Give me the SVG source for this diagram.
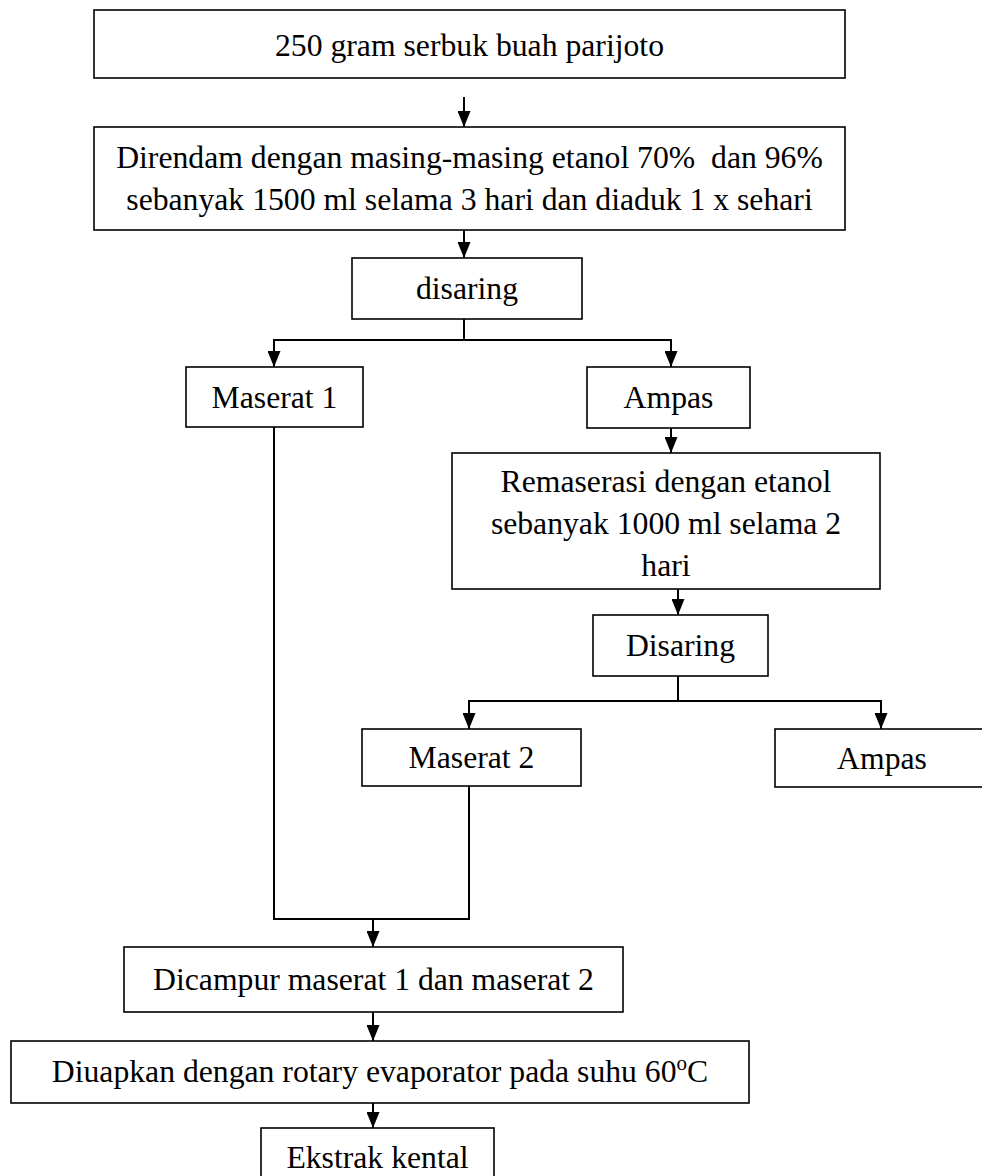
<svg xmlns="http://www.w3.org/2000/svg" width="982" height="1176" viewBox="0 0 982 1176">
<style>
.box{fill:#fff;stroke:#000;stroke-width:1.6}
.t{font-family:"Liberation Serif","Times New Roman",serif;font-size:31.7px;fill:#000;text-anchor:middle}
.c{fill:none;stroke:#000;stroke-width:2}
.a{marker-end:url(#arr)}
</style>
<defs>
<marker id="arr" viewBox="0 0 16 13" refX="16" refY="6.5" markerWidth="16" markerHeight="13" markerUnits="userSpaceOnUse" orient="auto">
<path d="M0,0 L16,6.5 L0,13 z" fill="#000"/>
</marker>
</defs>
<rect width="982" height="1176" fill="#fff"/>
<g id="connectors">
<line class="c a" x1="464" y1="97" x2="464" y2="127"/>
<line class="c a" x1="464" y1="230" x2="464" y2="258"/>
<polyline class="c" points="464,319 464,340"/>
<polyline class="c a" points="464,340 274,340 274,367"/>
<polyline class="c a" points="464,340 671,340 671,367"/>
<line class="c a" x1="671" y1="428" x2="671" y2="453"/>
<line class="c a" x1="678" y1="589" x2="678" y2="615"/>
<polyline class="c" points="678,676 678,701"/>
<polyline class="c a" points="678,701 469,701 469,729"/>
<polyline class="c a" points="678,701 881,701 881,729"/>
<polyline class="c" points="274,427 274,919 469,919 469,786"/>
<line class="c a" x1="373" y1="919" x2="373" y2="947"/>
<line class="c a" x1="373" y1="1012" x2="373" y2="1041"/>
<line class="c a" x1="373" y1="1103" x2="373" y2="1128"/>
</g>
<g id="n1"><rect class="box" x="94" y="10" width="751" height="68"/><text class="t" x="469.5" y="56">250 gram serbuk buah parijoto</text></g>
<g id="n2"><rect class="box" x="94" y="127" width="751" height="103"/><text class="t" x="469.5" y="168" xml:space="preserve">Direndam dengan masing-masing etanol 70%  dan 96%</text><text class="t" x="469.5" y="210">sebanyak 1500 ml selama 3 hari dan diaduk 1 x sehari</text></g>
<g id="n3"><rect class="box" x="352" y="258" width="230" height="61"/><text class="t" x="467" y="299">disaring</text></g>
<g id="n4"><rect class="box" x="186" y="367" width="177" height="60"/><text class="t" x="274.5" y="408">Maserat 1</text></g>
<g id="n5"><rect class="box" x="587" y="367" width="163" height="61"/><text class="t" x="668.5" y="408">Ampas</text></g>
<g id="n6"><rect class="box" x="452" y="453" width="428" height="136"/><text class="t" x="666" y="492">Remaserasi dengan etanol</text><text class="t" x="666" y="534">sebanyak 1000 ml selama 2</text><text class="t" x="666" y="576">hari</text></g>
<g id="n7"><rect class="box" x="593" y="615" width="175" height="61"/><text class="t" x="680.5" y="656">Disaring</text></g>
<g id="n8"><rect class="box" x="362" y="729" width="219" height="57"/><text class="t" x="471.5" y="768">Maserat 2</text></g>
<g id="n9"><rect class="box" x="775" y="729" width="214" height="58"/><text class="t" x="882" y="769">Ampas</text></g>
<g id="n10"><rect class="box" x="124" y="947" width="499" height="65"/><text class="t" x="373.5" y="990">Dicampur maserat 1 dan maserat 2</text></g>
<g id="n11"><rect class="box" x="11" y="1041" width="738" height="62"/><text class="t" x="380" y="1082">Diuapkan dengan rotary evaporator pada suhu 60<tspan font-size="21" dy="-12">o</tspan><tspan dy="12">C</tspan></text></g>
<g id="n12"><rect class="box" x="261" y="1128" width="233" height="60"/><text class="t" x="377.5" y="1168">Ekstrak kental</text></g>
</svg>
